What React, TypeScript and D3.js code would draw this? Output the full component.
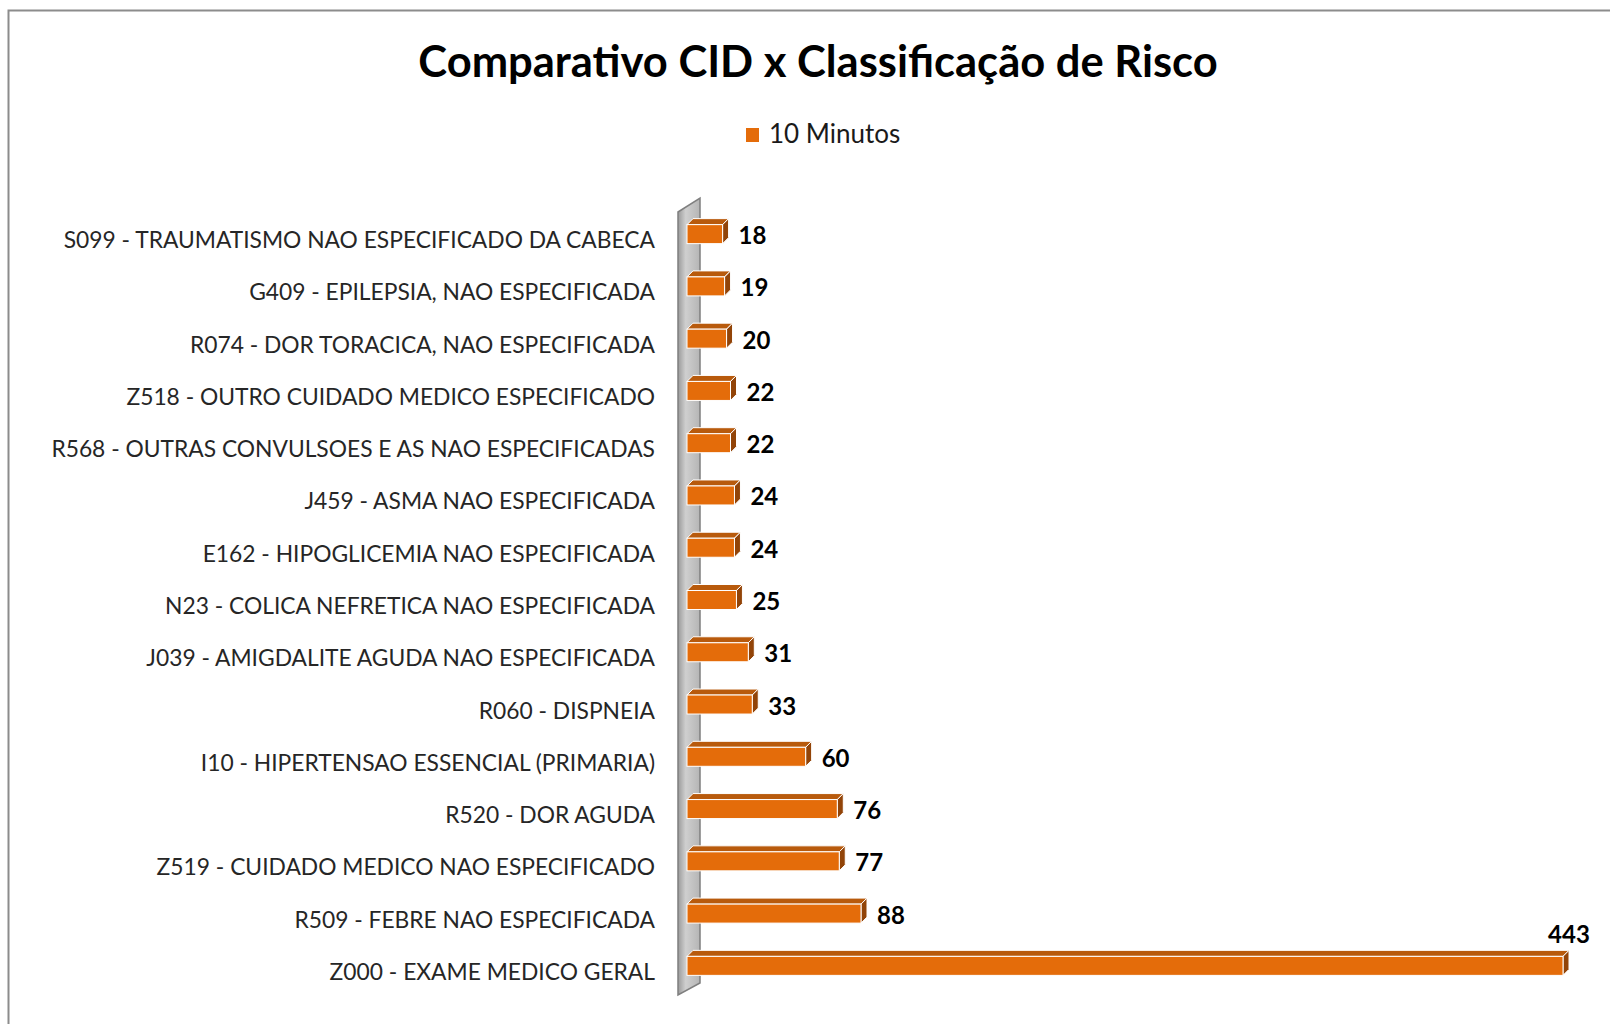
import React from "react";
import * as d3 from "d3";

const categories = [
  "S099 - TRAUMATISMO NAO ESPECIFICADO DA CABECA",
  "G409 - EPILEPSIA, NAO ESPECIFICADA",
  "R074 - DOR TORACICA, NAO ESPECIFICADA",
  "Z518 - OUTRO CUIDADO MEDICO ESPECIFICADO",
  "R568 - OUTRAS CONVULSOES E AS NAO ESPECIFICADAS",
  "J459 - ASMA NAO ESPECIFICADA",
  "E162 - HIPOGLICEMIA NAO ESPECIFICADA",
  "N23 - COLICA NEFRETICA NAO ESPECIFICADA",
  "J039 - AMIGDALITE AGUDA NAO ESPECIFICADA",
  "R060 - DISPNEIA",
  "I10 - HIPERTENSAO ESSENCIAL (PRIMARIA)",
  "R520 - DOR AGUDA",
  "Z519 - CUIDADO MEDICO NAO ESPECIFICADO",
  "R509 - FEBRE NAO ESPECIFICADA",
  "Z000 - EXAME MEDICO GERAL",
];
const values = [18, 19, 20, 22, 22, 24, 24, 25, 31, 33, 60, 76, 77, 88, 443];
const seriesName = "10 Minutos";
const title = "Comparativo CID x Classificação de Risco";

const W = 1610;
const H = 1024;
const barH = 19;
const dx = 6;
const dy = -6;
const orange = "#E46C0A";
const orangeTop = "#B85A0C";
const orangeSide = "#924408";
const font = "Lato, 'Open Sans', sans-serif";

export default function App() {
  const x = d3.scaleLinear().domain([0, 443]).range([687, 1563]);
  const y = d3.scalePoint<string>().domain(categories).range([208, 992]).padding(0.5);

  const wall = "M678,212 L700,198 L700,983 L678,995 Z";

  return (
    <svg width={W} height={H} style={{ position: "absolute", left: 0, top: 0, background: "#fff" }}>
      <defs>
        <linearGradient id="wallGrad" x1="0" x2="1" y1="0" y2="0">
          <stop offset="0" stopColor="#9a9a9a" />
          <stop offset="0.35" stopColor="#cfcfcf" />
          <stop offset="1" stopColor="#b5b5b5" />
        </linearGradient>
      </defs>
      <rect x={8.5} y={10.5} width={1700} height={1100} fill="#fff" stroke="#8c8c8c" strokeWidth={2} />

      <text x={818} y={77} textAnchor="middle" fontFamily={font} fontWeight="bold" fontSize={43.5} fill="#000">
        {title}
      </text>

      <rect x={746} y={128} width={13} height={14} fill={orange} />
      <text x={769} y={143} fontFamily={font} fontSize={26} fill="#1a1a1a">
        {seriesName}
      </text>

      <path d={wall} fill="url(#wallGrad)" stroke="#7f7f7f" strokeWidth={1.5} />

      {categories.map((c, i) => {
        const cy = y(c) as number;
        const top = cy - barH / 2;
        const x0 = x(0);
        const x1 = x(values[i]);
        const isMax = values[i] === d3.max(values);
        return (
          <g key={c}>
            <text x={655} y={cy + 14} textAnchor="end" fontFamily={font} fontSize={22.8} fill="#262626">
              {c}
            </text>
            <path
              d={`M${x0},${top} L${x0 + dx},${top + dy} L${x1 + dx},${top + dy} L${x1},${top} Z`}
              fill={orangeTop}
              stroke="#fff"
              strokeWidth={1}
            />
            <path
              d={`M${x1},${top} L${x1 + dx},${top + dy} L${x1 + dx},${top + dy + barH} L${x1},${top + barH} Z`}
              fill={orangeSide}
              stroke="#fff"
              strokeWidth={1}
            />
            <rect x={x0} y={top} width={x1 - x0} height={barH} fill={orange} stroke="#fff" strokeWidth={1} />
            {isMax ? (
              <text x={x1 + dx} y={top - 13} textAnchor="middle" fontFamily={font} fontWeight="bold" fontSize={24} fill="#000">
                {values[i]}
              </text>
            ) : (
              <text x={x1 + dx + 10} y={cy + 10} fontFamily={font} fontWeight="bold" fontSize={24} fill="#000">
                {values[i]}
              </text>
            )}
          </g>
        );
      })}
    </svg>
  );
}
